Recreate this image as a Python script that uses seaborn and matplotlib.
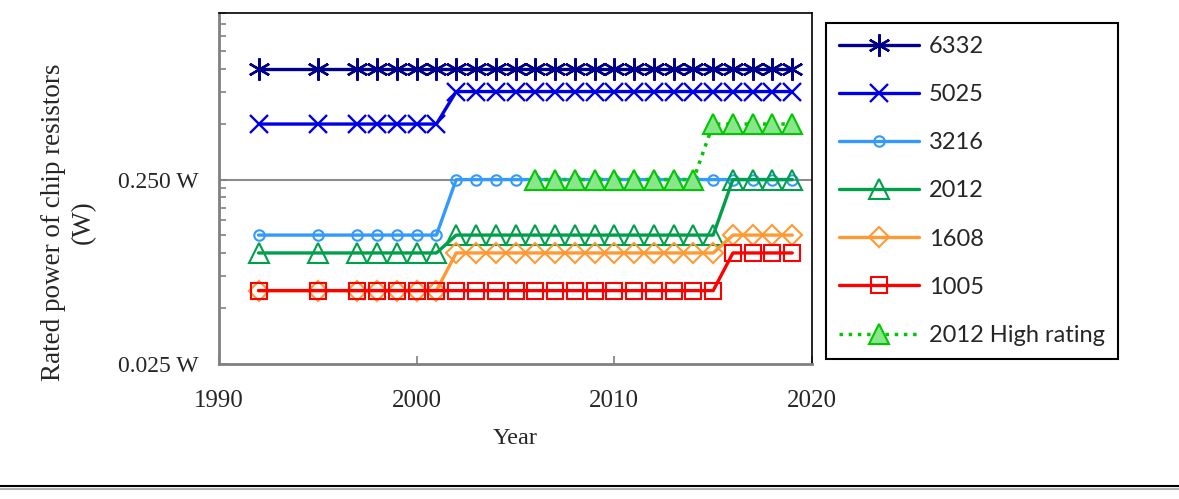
import numpy as np
import pandas as pd
import matplotlib
matplotlib.use('Agg')
import matplotlib.pyplot as plt
import seaborn as sns
from matplotlib.ticker import FixedLocator, NullFormatter
from matplotlib.lines import Line2D

# Data (rated power in W)
years = [1992, 1995] + list(range(1997, 2020))
p6332 = [1.0] * 25
p5025 = [0.5] * 7 + [0.75] * 18
p3216 = [0.125] * 7 + [0.25] * 18
p2012 = [0.1] * 7 + [0.125] * 14 + [0.25] * 4
p1608 = [0.0625] * 7 + [0.1] * 14 + [0.125] * 4
p1005 = [0.0625] * 21 + [0.1] * 4
high_years = list(range(2006, 2020))
p2012_high = [0.25] * 9 + [0.5] * 5

series = [
    ('6332', years, p6332),
    ('5025', years, p5025),
    ('3216', years, p3216),
    ('2012', years, p2012),
    ('1608', years, p1608),
    ('1005', years, p1005),
    ('2012 High rating', high_years, p2012_high),
]

styles = {
    '6332': dict(color='#00008B', marker=(6, 2, 0), markersize=16, markeredgewidth=1.7),
    '5025': dict(color='#0000E6', marker='x', markersize=12.5, markeredgewidth=1.7),
    '3216': dict(color='#3399FF', marker='o', markersize=7.5, markerfacecolor='none', markeredgewidth=1.5),
    '2012': dict(color='#00A04A', marker='^', markersize=14, markerfacecolor='none', markeredgewidth=1.5),
    '1608': dict(color='#FF9933', marker='D', markersize=10, markerfacecolor='none', markeredgewidth=1.5),
    '1005': dict(color='#FF0000', marker='s', markersize=11, markerfacecolor='none', markeredgewidth=1.5),
    '2012 High rating': dict(color='#00C800', marker='^', markersize=14, markerfacecolor='#8AE68A',
                             markeredgewidth=1.5, linestyle=':', linewidth=2.5),
}

sns.set_style('white')
plt.rcParams['font.family'] = ['Liberation Serif', 'DejaVu Serif']

fig = plt.figure(figsize=(11.79, 4.99), dpi=100)
ax = fig.add_axes([219 / 1179, 1 - 364 / 499, (812 - 219) / 1179, (364 - 13) / 499])

for name, xs, ys in series:
    st = dict(styles[name])
    lw = st.pop('linewidth', 2.4)
    st.setdefault('markeredgecolor', st['color'])
    df = pd.DataFrame({'Year': xs, 'Power': ys})
    sns.lineplot(data=df, x='Year', y='Power', ax=ax, label=name, linewidth=lw, **st)

ax.set_yscale('log')
ax.set_ylim(0.025, 2.0)
ax.set_xlim(1990, 2020)

ax.yaxis.set_major_locator(FixedLocator([0.025, 0.25]))
ax.set_yticklabels(['0.025 W', '0.250 W'])
minor = [k * 0.025 for k in range(2, 10)] + [k * 0.25 for k in range(2, 9)]
ax.yaxis.set_minor_locator(FixedLocator(minor))
ax.yaxis.set_minor_formatter(NullFormatter())
ax.set_xticks([1990, 2000, 2010, 2020])

ax.tick_params(axis='both', which='major', direction='in', length=6, width=1.2, color='#808080')
ax.tick_params(axis='y', which='major', labelsize=17, pad=15, left=True)
ax.tick_params(axis='x', which='major', labelsize=18, pad=19, bottom=True)
ax.tick_params(axis='y', which='minor', direction='in', length=5, width=1.2, color='#808080', left=True)

ax.axhline(0.25, color='#8C8C8C', linewidth=1.5, zorder=0)

for side in ['left', 'bottom']:
    ax.spines[side].set_color('#808080')
    ax.spines[side].set_linewidth(2)
for side in ['top', 'right']:
    ax.spines[side].set_color('#000000')
    ax.spines[side].set_linewidth(1.2)

ax.set_xlabel('Year', fontsize=17.5, labelpad=11)
ax.set_ylabel('Rated power of chip resistors\n(W)', fontsize=19.5, linespacing=1.25)
ax.yaxis.set_label_coords((96 - 219) / 593, (364 - 222) / 351)

leg = ax.legend(loc='upper left', bbox_to_anchor=(826 / 1179, 1 - 23 / 499),
                bbox_transform=fig.transFigure, borderaxespad=0, frameon=True, fancybox=False,
                edgecolor='black', framealpha=1, handlelength=3.4, handletextpad=0.4,
                labelspacing=1.15, borderpad=0.55, prop={'family': ['Lato', 'DejaVu Sans'], 'size': 17})
leg.get_frame().set_linewidth(1.5)

# horizontal rule at the bottom of the figure
fig.add_artist(Line2D([0, 1], [1 - 486 / 499, 1 - 486 / 499], color='black', linewidth=1.5))
fig.add_artist(Line2D([0, 1], [1 - 489 / 499, 1 - 489 / 499], color='#B0B0B0', linewidth=1.5))

fig.savefig('out.png', dpi=100)
